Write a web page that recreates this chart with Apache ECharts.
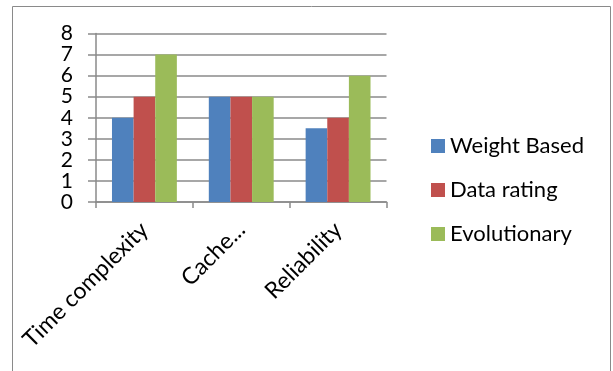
<!DOCTYPE html>
<html>
<head>
<meta charset="utf-8">
<script src="https://cdn.jsdelivr.net/npm/echarts@6/dist/echarts.min.js"></script>
<style>
  html, body { margin: 0; padding: 0; background: #fff; }
  #chart { width: 613px; height: 371px; }
</style>
</head>
<body>
<div id="chart"></div>
<script>
// Criteria compared across the three approaches
const categories = ['Time complexity', 'Cache...', 'Reliability'];
const weightBased = [4, 5, 3.5];
const dataRating = [5, 5, 4];
const evolutionary = [7, 5, 6];
const yTicks = { min: 0, max: 8, interval: 1 };

const FONT = 'Lato';
const GRID_COLOR = '#8a8a8a';

const chart = echarts.init(document.getElementById('chart'), null, { renderer: 'canvas' });

function barSeries(name, data, color) {
  return {
    name: name,
    type: 'bar',
    data: data,
    barGap: '0%',
    barCategoryGap: '33%',
    itemStyle: { color: color },
    emphasis: { disabled: true }
  };
}

chart.setOption({
  animation: false,
  backgroundColor: '#ffffff',
  textStyle: { fontFamily: FONT },
  graphic: [{
    type: 'rect',
    shape: { x: 12.5, y: 6.5, width: 598, height: 400 },
    style: { fill: 'none', stroke: '#8a8a8a', lineWidth: 1 },
    silent: true
  }],
  grid: { left: 96, top: 33.5, width: 290.5, height: 168.5, containLabel: false },
  legend: {
    orient: 'vertical',
    left: 426,
    top: 130,
    itemWidth: 14,
    itemHeight: 14,
    itemGap: 22,
    icon: 'rect',
    textStyle: { fontFamily: FONT, fontSize: 22, color: '#000' },
    data: ['Weight Based', 'Data rating', 'Evolutionary']
  },
  xAxis: {
    type: 'category',
    data: categories,
    axisLine: { lineStyle: { color: GRID_COLOR, width: 1.5 } },
    axisTick: { show: true, length: 6, lineStyle: { color: GRID_COLOR, width: 1.5 } },
    axisLabel: {
      rotate: 45,
      interval: 0,
      margin: 24,
      fontFamily: FONT,
      fontSize: 23,
      color: '#000'
    }
  },
  yAxis: {
    type: 'value',
    min: yTicks.min,
    max: yTicks.max,
    interval: yTicks.interval,
    axisLine: { show: true, lineStyle: { color: GRID_COLOR, width: 1.5 } },
    axisTick: { show: true, length: 8, lineStyle: { color: GRID_COLOR, width: 1.5 } },
    splitLine: { show: true, lineStyle: { color: GRID_COLOR, width: 1.5 } },
    axisLabel: {
      margin: 23,
      fontFamily: FONT,
      fontSize: 21,
      color: '#000'
    }
  },
  series: [
    barSeries('Weight Based', weightBased, '#4f81bd'),
    barSeries('Data rating', dataRating, '#c0504d'),
    barSeries('Evolutionary', evolutionary, '#9bbb59')
  ]
});
</script>
</body>
</html>
